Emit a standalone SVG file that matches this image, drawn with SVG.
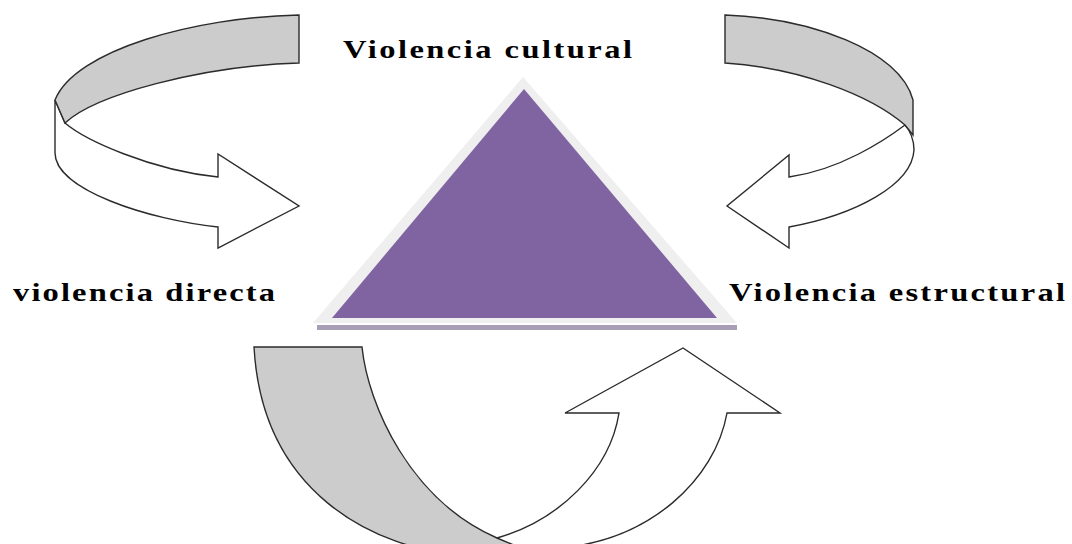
<svg xmlns="http://www.w3.org/2000/svg" width="1072" height="544" viewBox="0 0 1072 544">
  <style>
    .band { stroke: #2b2b2b; stroke-width: 1.4; stroke-linejoin: miter; }
    .gray { fill: #cccccc; }
    .white { fill: #ffffff; }
    .lbl { font-family: "Liberation Serif", "Times New Roman", serif; font-weight: bold; font-size: 26px; fill: #000000; }
  </style>
  <rect width="1072" height="544" fill="#ffffff"/>

  <g id="triangle">
    <polygon points="317,325 737,325 737,330 317,330" fill="#a89eb6"/>
    <polygon points="523,77 313,323 737,323" fill="#efefef"/>
    <polygon points="524,89 332,318 717,318" fill="#8064a2"/>
  </g>

  <g id="connectors">
    <g id="arrow-top-left">
      <path class="band white" d="M65,123 C85,140 150,170 218,177 L218,154 L299,206 L218,248 L218,227 C150,220 55,190 55,153 L55,100 Z"/>
      <path class="band gray" d="M299,15 C195,17 75,50 55,100 L65,123 C95,95 200,66 299,63 Z"/>
    </g>
    <g id="arrow-top-right">
      <path class="band white" d="M905,125 C885,140 840,170 789,177 L789,155 L727,206 L789,248 L789,227 C855,215 912,185 914,150 C914,140 910,130 905,125 Z"/>
      <path class="band gray" d="M725,15 C810,18 900,50 913,100 L913,135 L905,125 C870,95 800,68 725,63 Z"/>
    </g>
    <g id="arrow-bottom">
      <path class="band white" d="M470,556 L497,538 C560,520 610,470 619,413 L565,413 L683,348 L780,413 L727,413 C715,480 650,540 560,548 Z"/>
      <path class="band gray" d="M254,347 L362,347 C368,405 410,500 497,538 L540,556 L470,556 C370,550 262,490 254,347 Z"/>
    </g>
  </g>

  <g id="label-cultural">
    <text class="lbl" transform="translate(343,58) scale(1.25,1)" x="0" y="0" textLength="231.2">Violencia cultural</text>
  </g>
  <g id="label-directa">
    <text class="lbl" transform="translate(13,301) scale(1.25,1)" x="0" y="0" textLength="209.6">violencia directa</text>
  </g>
  <g id="label-estructural">
    <text class="lbl" transform="translate(729,301) scale(1.25,1)" x="0" y="0" textLength="268.8">Violencia estructural</text>
  </g>
</svg>
